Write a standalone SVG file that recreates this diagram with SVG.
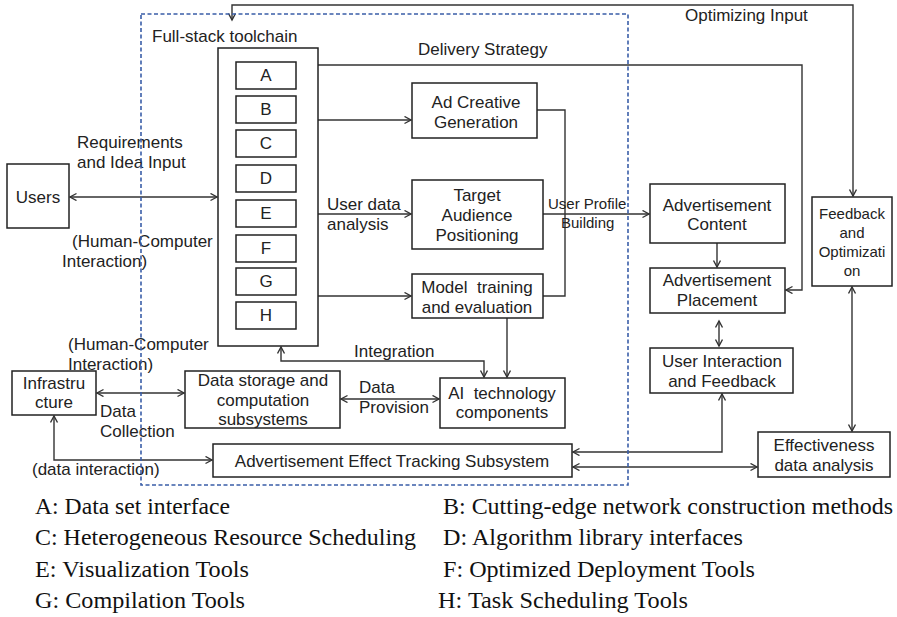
<svg xmlns="http://www.w3.org/2000/svg" width="897" height="617" viewBox="0 0 897 617">
<style>
.bg{fill:#ffffff}
.box{fill:#ffffff;stroke:#222;stroke-width:1.5}
.t{font-family:"Liberation Sans",Arial,sans-serif;font-size:17px;fill:#222}
.tc{font-family:"Liberation Sans",Arial,sans-serif;font-size:17px;fill:#222;text-anchor:middle}
.ts{font-family:"Liberation Sans",Arial,sans-serif;font-size:15px;fill:#222}
.tsc{font-family:"Liberation Sans",Arial,sans-serif;font-size:15px;fill:#222;text-anchor:middle}
.pre{white-space:pre}
.lg{font-family:"Liberation Serif","Times New Roman",serif;font-size:23.5px;fill:#111}
.c{fill:none;stroke:#333;stroke-width:1.4}
.dash{fill:none;stroke:#3a5ea8;stroke-width:1.6;stroke-dasharray:4,2.5}
</style>
<defs>
<marker id="ah" markerUnits="userSpaceOnUse" markerWidth="10" markerHeight="10" refX="7" refY="4" orient="auto-start-reverse">
<path d="M0.5,0.5 L7,4 L0.5,7.5" fill="none" stroke="#333" stroke-width="1.4"/>
</marker>
</defs>
<rect class="bg" x="0" y="0" width="897" height="617"/>

<g id="connectors">
<path class="c" d="M853,196 V5 H232 V20" marker-start="url(#ah)" marker-end="url(#ah)"/>
<path class="c" d="M318,65 H802 V290 H786" marker-end="url(#ah)"/>
<path class="c" d="M318,120 H411" marker-end="url(#ah)"/>
<path class="c" d="M318,214 H411" marker-end="url(#ah)"/>
<path class="c" d="M318,296 H411" marker-end="url(#ah)"/>
<path class="c" d="M537,110 H565 V296 H543"/>
<path class="c" d="M543,214 H649" marker-end="url(#ah)"/>
<path class="c" d="M717,243 V267" marker-end="url(#ah)"/>
<path class="c" d="M719,321 V346" marker-start="url(#ah)" marker-end="url(#ah)"/>
<path class="c" d="M722,394 V452 H573" marker-start="url(#ah)" marker-end="url(#ah)"/>
<path class="c" d="M573,467 H757" marker-start="url(#ah)" marker-end="url(#ah)"/>
<path class="c" d="M852,287 V431" marker-start="url(#ah)" marker-end="url(#ah)"/>
<path class="c" d="M70,197 H217" marker-start="url(#ah)" marker-end="url(#ah)"/>
<path class="c" d="M97,393 H184" marker-start="url(#ah)" marker-end="url(#ah)"/>
<path class="c" d="M341,399 H439" marker-start="url(#ah)" marker-end="url(#ah)"/>
<path class="c" d="M281,347 V361 H484 V377" marker-start="url(#ah)" marker-end="url(#ah)"/>
<path class="c" d="M507,318 V377" marker-end="url(#ah)"/>
<path class="c" d="M54,416 V460 H212" marker-start="url(#ah)" marker-end="url(#ah)"/>
</g>

<g id="toolchain">
<rect class="box" x="218" y="48" width="100" height="298"/>
</g>
<g id="tool-A"><rect class="box" x="236" y="62" width="60" height="27"/><text class="tc" x="266" y="81">A</text></g>
<g id="tool-B"><rect class="box" x="236" y="96" width="60" height="27"/><text class="tc" x="266" y="115">B</text></g>
<g id="tool-C"><rect class="box" x="236" y="130" width="60" height="27"/><text class="tc" x="266" y="149">C</text></g>
<g id="tool-D"><rect class="box" x="236" y="165" width="60" height="27"/><text class="tc" x="266" y="184">D</text></g>
<g id="tool-E"><rect class="box" x="236" y="200" width="60" height="27"/><text class="tc" x="266" y="219">E</text></g>
<g id="tool-F"><rect class="box" x="236" y="235" width="60" height="27"/><text class="tc" x="266" y="254">F</text></g>
<g id="tool-G"><rect class="box" x="236" y="268" width="60" height="27"/><text class="tc" x="266" y="287">G</text></g>
<g id="tool-H"><rect class="box" x="236" y="302" width="60" height="27"/><text class="tc" x="266" y="321">H</text></g>

<g id="users"><rect class="box" x="7" y="164" width="62" height="64"/><text class="tc" x="38" y="203">Users</text></g>

<g id="ad-creative"><rect class="box" x="412" y="83" width="125" height="55"/>
<text class="tc" x="476" y="108">Ad Creative</text><text class="tc" x="476" y="128">Generation</text></g>

<g id="target-audience"><rect class="box" x="412" y="180" width="131" height="69"/>
<text class="tc" x="477" y="201">Target</text><text class="tc" x="477" y="221">Audience</text><text class="tc" x="477" y="241">Positioning</text></g>

<g id="model-training"><rect class="box" x="412" y="274" width="131" height="44"/>
<text class="tc pre" x="477" y="293">Model  training</text><text class="tc" x="477" y="313">and evaluation</text></g>

<g id="ad-content"><rect class="box" x="650" y="184" width="135" height="59"/>
<text class="tc" x="717" y="211">Advertisement</text><text class="tc" x="717" y="230">Content</text></g>

<g id="ad-placement"><rect class="box" x="650" y="268" width="135" height="45"/>
<text class="tc" x="717" y="286">Advertisement</text><text class="tc" x="717" y="306">Placement</text></g>

<g id="user-interaction"><rect class="box" x="650" y="348" width="143" height="45"/>
<text class="tc" x="722" y="367">User Interaction</text><text class="tc" x="722" y="387">and Feedback</text></g>

<g id="feedback"><rect class="box" x="812" y="197" width="80" height="89"/>
<text class="tsc" x="852" y="219">Feedback</text><text class="tsc" x="852" y="238">and</text><text class="tsc" x="852" y="257">Optimizati</text><text class="tsc" x="852" y="276">on</text></g>

<g id="effectiveness"><rect class="box" x="758" y="432" width="132" height="45"/>
<text class="tc" x="824" y="451">Effectiveness</text><text class="tc" x="824" y="471">data analysis</text></g>

<g id="tracking"><rect class="box" x="213" y="444" width="359" height="33"/>
<text class="tc" x="392" y="467">Advertisement Effect Tracking Subsystem</text></g>

<g id="ai-components"><rect class="box" x="440" y="378" width="125" height="50"/>
<text class="tc pre" x="502" y="399">AI  technology</text><text class="tc" x="502" y="418">components</text></g>

<g id="data-storage"><rect class="box" x="185" y="371" width="155" height="57"/>
<text class="tc" x="263" y="386">Data storage and</text><text class="tc" x="263" y="406">computation</text><text class="tc" x="263" y="425">subsystems</text></g>

<g id="infrastructure"><rect class="box" x="12" y="371" width="84" height="44"/>
<text class="tc" x="54" y="389">Infrastru</text><text class="tc" x="54" y="408">cture</text></g>

<g id="labels">
<text class="t" x="685" y="21">Optimizing Input</text>
<text class="t" x="152" y="42">Full-stack toolchain</text>
<text class="t" x="418" y="55">Delivery Strategy</text>
<text class="t" x="77" y="148">Requirements</text>
<text class="t" x="77" y="168">and Idea Input</text>
<text class="t" x="72" y="247">(Human-Computer</text>
<text class="t" x="62" y="267">Interaction)</text>
<text class="t" x="327" y="210">User data</text>
<text class="t" x="327" y="230">analysis</text>
<text class="ts" x="548" y="209">User Profile</text>
<text class="ts" x="561" y="228">Building</text>
<text class="t" x="68" y="350">(Human-Computer</text>
<text class="t" x="68" y="370">Interaction)</text>
<text class="t" x="354" y="357">Integration</text>
<text class="t" x="359" y="393">Data</text>
<text class="t" x="359" y="413">Provision</text>
<text class="t" x="100" y="417">Data</text>
<text class="t" x="100" y="437">Collection</text>
<text class="t" x="32" y="475">(data interaction)</text>
</g>

<rect class="dash" x="141" y="14" width="487" height="471"/>

<g id="legend">
<text class="lg" x="35" y="514" textLength="195" lengthAdjust="spacingAndGlyphs">A: Data set interface</text>
<text class="lg" x="443" y="514" textLength="450" lengthAdjust="spacingAndGlyphs">B: Cutting-edge network construction methods</text>
<text class="lg" x="35" y="545" textLength="381" lengthAdjust="spacingAndGlyphs">C: Heterogeneous Resource Scheduling</text>
<text class="lg" x="443" y="545" textLength="300" lengthAdjust="spacingAndGlyphs">D: Algorithm library interfaces</text>
<text class="lg" x="35" y="577" textLength="214" lengthAdjust="spacingAndGlyphs">E: Visualization Tools</text>
<text class="lg" x="443" y="577" textLength="312" lengthAdjust="spacingAndGlyphs">F: Optimized Deployment Tools</text>
<text class="lg" x="35" y="608" textLength="210" lengthAdjust="spacingAndGlyphs">G: Compilation Tools</text>
<text class="lg" x="438" y="608" textLength="250" lengthAdjust="spacingAndGlyphs">H: Task Scheduling Tools</text>
</g>
</svg>
